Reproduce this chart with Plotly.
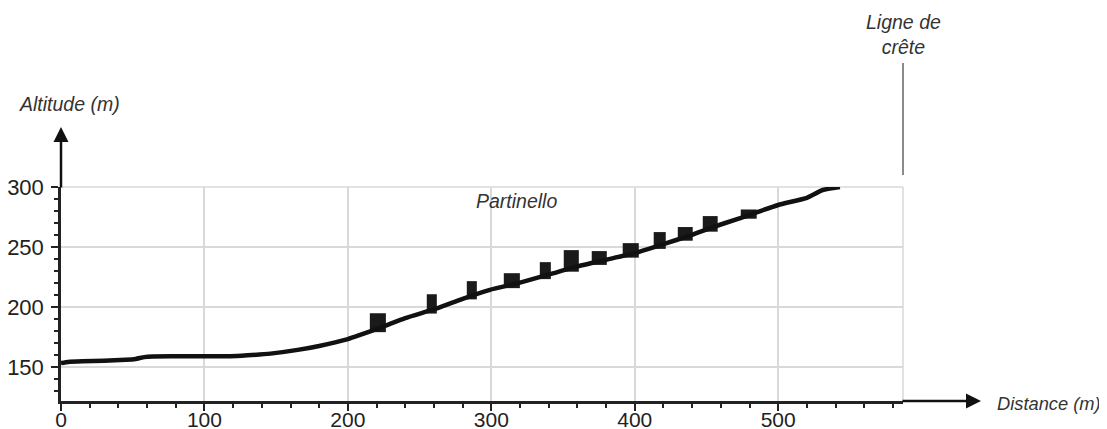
import numpy as np
import plotly.graph_objects as go

# Terrain profile (distance m, altitude m)
profile_x = [0, 5, 15, 30, 45, 52, 58, 64, 90, 118, 130, 146, 165, 180, 200, 208, 224, 240,
             262, 280, 299, 320, 341, 360, 380, 400, 420, 438, 452, 473, 500, 520, 531, 543]
profile_y = [153.5, 154.5, 155, 155.5, 156.3, 157, 158.5, 159, 159.2, 159.2, 160, 161.4, 164.5,
             167.8, 173.5, 176.7, 183.6, 191, 199, 207, 214.5, 220.5, 227.5, 234, 239.5, 245,
             252.5, 259.4, 265.6, 274, 285, 291, 297.5, 300]

# Buildings of Partinello: start / end distance (m) and roof altitude (m)
bld_start = [215.3, 255.0, 282.9, 308.7, 333.8, 350.5, 370.0, 391.6, 413.2, 430.0, 447.4, 473.9]
bld_end = [226.5, 262.0, 289.9, 319.9, 341.5, 361.0, 380.5, 402.8, 421.6, 440.4, 457.8, 485.0]
bld_top = [195.0, 210.8, 221.7, 228.3, 237.5, 247.5, 246.7, 253.3, 262.5, 266.7, 275.8, 281.3]

x_ticks = [0, 100, 200, 300, 400, 500]
y_ticks = [150, 200, 250, 300]
x_range = [0, 587]
y_range = [122, 300]

bs = np.array(bld_start)
be = np.array(bld_end)
centers = (bs + be) / 2
widths = be - bs
ground = np.interp(centers, profile_x, profile_y) - 3
heights = np.array(bld_top) - ground

FONT = "Liberation Sans, Arial, sans-serif"
GRID = "#d9d9d9"
INK = "#1a1a1a"

# page offset of the plot div (browser default body margin)
OFF = 8
PL, PT, PW, PH = 61 - OFF, 187 - OFF, 842, 214

fig = go.Figure()
fig.add_trace(go.Bar(x=centers, y=heights, base=ground, width=widths,
                     marker=dict(color=INK, line=dict(width=0)), showlegend=False,
                     hoverinfo="skip"))
fig.add_trace(go.Scatter(x=profile_x, y=profile_y, mode="lines",
                         line=dict(color="#111111", width=4.5, shape="spline", smoothing=0.4),
                         showlegend=False, hoverinfo="skip"))

fig.update_layout(
    width=1107, height=429,
    margin=dict(l=PL, r=1107 - PL - PW, t=PT, b=429 - PT - PH),
    paper_bgcolor="white", plot_bgcolor="white",
    font=dict(family=FONT, color="#222222"),
    barmode="overlay",
    xaxis=dict(range=x_range, tickvals=x_ticks, showgrid=True, gridcolor=GRID, gridwidth=1.5,
               showline=True, linecolor="#222222", linewidth=2.5, automargin=False,
               ticks="outside", ticklen=7, tickwidth=1.5, tickcolor="#222222",
               tickfont=dict(size=21, color="#222222"), ticklabelstandoff=-9,
               minor=dict(dtick=20, ticks="outside", ticklen=4, tickwidth=1.5,
                          tickcolor="#222222", showgrid=False),
               zeroline=False, fixedrange=True),
    yaxis=dict(range=y_range, tickvals=y_ticks, showgrid=True, gridcolor=GRID, gridwidth=1.5,
               showline=True, linecolor="#222222", linewidth=2.5, automargin=False,
               ticks="outside", ticklen=7, tickwidth=1.5, tickcolor="#222222",
               tickfont=dict(size=22, color="#222222"), ticklabelstandoff=3,
               minor=dict(dtick=10, ticks="outside", ticklen=4, tickwidth=1.5,
                          tickcolor="#222222", showgrid=False),
               zeroline=False, fixedrange=True),
)

# right border grid line and top grid line
fig.add_shape(type="line", xref="paper", yref="paper", x0=1, x1=1, y0=0, y1=1,
              line=dict(color=GRID, width=1.5), layer="below")
fig.add_shape(type="line", xref="paper", yref="paper", x0=0, x1=1, y0=1, y1=1,
              line=dict(color=GRID, width=1.5), layer="below")
# crest line marker
fig.add_shape(type="line", xref="paper", yref="paper", x0=1, x1=1,
              y0=(401 - 175) / 214, y1=(401 - 63) / 214,
              line=dict(color="#8a8a8a", width=2))

# axis arrows
fig.add_annotation(xref="paper", yref="paper", x=(981 - 61) / 842, y=0, ax=-80, ay=0,
                   text="", showarrow=True, arrowhead=2, arrowsize=1.2, arrowwidth=2.5,
                   arrowcolor="#111111")
fig.add_annotation(xref="paper", yref="paper", x=0, y=(401 - 127) / 214, ax=0, ay=62,
                   text="", showarrow=True, arrowhead=2, arrowsize=1.2, arrowwidth=2.5,
                   arrowcolor="#111111")

ital = dict(family=FONT, size=19.5, color="#333333")
fig.add_annotation(xref="paper", yref="paper", x=(17 - 61) / 842, y=(401 - 104) / 214,
                   xanchor="left", yanchor="middle", text="<i>Altitude (m)</i>",
                   showarrow=False, font=ital)
fig.add_annotation(xref="paper", yref="paper", x=(995 - 61) / 842, y=(401 - 403) / 214,
                   xanchor="left", yanchor="middle", text="<i>Distance (m)</i>",
                   showarrow=False, font=dict(family=FONT, size=18.3, color="#333333"))
fig.add_annotation(xref="paper", yref="paper", x=1, y=(401 - 34) / 214,
                   xanchor="center", yanchor="middle", text="<i>Ligne de<br>crête</i>",
                   showarrow=False, font=ital)
fig.add_annotation(xref="paper", yref="paper", x=(516 - 61) / 842, y=(401 - 201) / 214,
                   xanchor="center", yanchor="middle", text="<i>Partinello</i>",
                   showarrow=False, font=ital)

fig.write_html("out.html")
